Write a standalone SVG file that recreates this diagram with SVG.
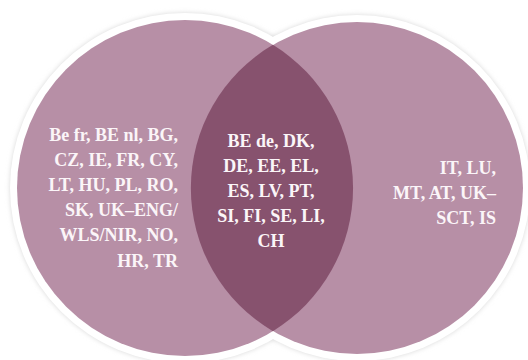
<svg xmlns="http://www.w3.org/2000/svg" width="528" height="360" viewBox="0 0 528 360">
<defs>
<filter id="sh" x="-10%" y="-10%" width="120%" height="120%">
<feGaussianBlur stdDeviation="2.5"/>
</filter>
</defs>
<style>
text{font-family:'Liberation Serif','Times New Roman',serif;font-weight:bold;font-size:18px;fill:#fbf5f8}
.r{text-anchor:end}
.m{text-anchor:middle}
.set{fill:#b78fa6}
.lens{fill:#87526e}
</style>
<rect width="528" height="360" fill="#ffffff"/>
<g id="outline">
<circle cx="185" cy="188" r="175" fill="#d9d9d9" filter="url(#sh)"/>
<circle cx="357" cy="188" r="173" fill="#d9d9d9" filter="url(#sh)"/>
<circle cx="185" cy="188" r="175" fill="#ffffff"/>
<circle cx="357" cy="188" r="173" fill="#ffffff"/>
</g>
<g id="set-left">
<circle class="set" cx="185" cy="188" r="168"/>
</g>
<g id="set-right">
<circle class="set" cx="357" cy="188" r="166"/>
</g>
<g id="intersection">
<path class="lens" d="M272.9,44.8 A166,166 0 0 0 272.9,331.2 A168,168 0 0 0 272.9,44.8 Z"/>
</g>
<g id="label-left" font-family="Liberation Serif, serif">
<text class="r" x="178" y="141">Be fr, BE nl, BG,</text>
<text class="r" x="178" y="166">CZ, IE, FR, CY,</text>
<text class="r" x="178" y="191">LT, HU, PL, RO,</text>
<text class="r" x="178" y="216">SK, UK–ENG/</text>
<text class="r" x="178" y="241">WLS/NIR, NO,</text>
<text class="r" x="178" y="267">HR, TR</text>
</g>
<g id="label-center" font-family="Liberation Serif, serif">
<text class="m" x="271" y="147">BE de, DK,</text>
<text class="m" x="271" y="172">DE, EE, EL,</text>
<text class="m" x="271" y="197">ES, LV, PT,</text>
<text class="m" x="271" y="222">SI, FI, SE, LI,</text>
<text class="m" x="271" y="247">CH</text>
</g>
<g id="label-right" font-family="Liberation Serif, serif">
<text class="r" x="496" y="174">IT, LU,</text>
<text class="r" x="496" y="199">MT, AT, UK–</text>
<text class="r" x="496" y="224">SCT, IS</text>
</g>
<g id="connectors"/>
</svg>
